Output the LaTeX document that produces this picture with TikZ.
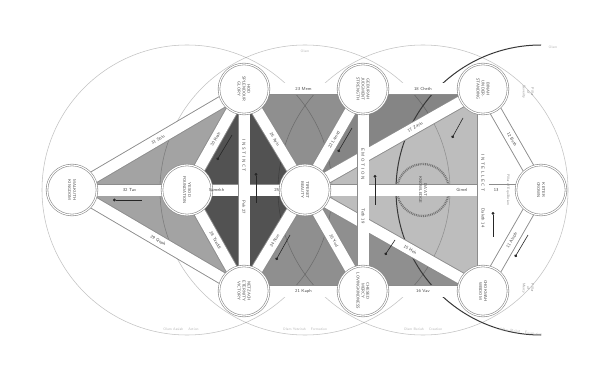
\documentclass[tikz,border=0pt]{standalone}
\usepackage{tikz}
\usetikzlibrary{arrows.meta,calc,positioning}
\definecolor{bandedge}{RGB}{140,140,140}
\definecolor{labelgrey}{RGB}{70,70,70}
\pgfdeclarelayer{shade}
\pgfdeclarelayer{bands}
\pgfsetlayers{shade,bands,main}

\begin{document}
\begin{tikzpicture}[x=1pt,y=1pt,line join=round,
  sefira/.style={circle,minimum size=50pt,inner sep=0pt,fill=white,
    draw=black!45,line width=.6pt,double=white,double distance=1.1pt,
    align=center,rotate=-90,text=labelgrey,
    font=\sffamily\fontsize{4.1}{4.9}\selectfont},
  daattext/.style={align=center,rotate=-90,inner sep=0pt,text=labelgrey,
    font=\sffamily\fontsize{4.1}{4.9}\selectfont},
  pathlabel/.style={font=\sffamily\fontsize{4.4}{4.6}\selectfont,text=labelgrey,inner sep=0pt},
  worldring/.style={black,opacity=.24,line width=.55pt},
  pillartext/.style={font=\sffamily\fontsize{3.6}{4.2}\selectfont,text=black!45,align=center,rotate=-90},
  worldtext/.style={font=\sffamily\fontsize{3.6}{4.2}\selectfont,text=black!28},
  pointer/.style={{Circle[length=2.8pt]}-,black!85,line width=.6pt}]
\useasboundingbox (0,0) rectangle (605,381);

% the ten sefirot and da'at
\node[sefira] (malkuth) at (72,191) {MALKUTH\\KINGDOM};
\node[sefira] (yesod) at (187,191) {YESOD\\FOUNDATION};
\node[sefira] (tiferet) at (305,191) {TIFERET\\BEAUTY};
\node[sefira] (keter) at (541,191) {KETER\\CROWN};
\node[sefira] (hod) at (244,292) {HOD\\SPLENDOUR\\GLORY};
\node[sefira] (geburah) at (363,292) {GEBURAH\\JUDGMENT\\STRENGTH};
\node[sefira] (binah) at (483,292) {BINAH\\UNDER-\\STANDING};
\node[sefira] (netzach) at (244,90) {NETZACH\\ETERNITY\\VICTORY};
\node[sefira] (chesed) at (363,90) {CHESED\\MERCY\\LOVINGKINDNESS};
\node[sefira] (chokmah) at (483,90) {CHOKMAH\\WISDOM};
\node[daattext] (daat) at (423,191) {DA'AT\\KNOWLEDGE};

\begin{pgfonlayer}{shade}
 \fill[white] (0,0) rectangle (605,381);
 \fill[black!36] (malkuth.center)--(hod.center)--(netzach.center)--cycle;
 \fill[black!68] (hod.center)--(tiferet.center)--(netzach.center)--(yesod.center)--cycle;
 \fill[black!44] (hod.center)--(geburah.center)--(tiferet.center)--cycle;
 \fill[black!44] (netzach.center)--(chesed.center)--(tiferet.center)--cycle;
 \fill[black!48] (geburah.center)--(binah.center)--(tiferet.center)--cycle;
 \fill[black!44] (chesed.center)--(chokmah.center)--(tiferet.center)--cycle;
 \fill[black!26] (tiferet.center)--(binah.center)--(chokmah.center)--cycle;
 \draw[dash pattern=on .9pt off .9pt,line width=2.2pt,black!55] (daat.center) circle[radius=26pt];
 % the four worlds
 \foreach \s in {yesod,tiferet,daat}
  \draw[worldring] (\s.center) circle[radius=145pt];
 \draw[black!78,line width=1pt] (keter.center) ++(0,145)
  arc[start angle=90,end angle=270,radius=145pt];
\end{pgfonlayer}

\begin{pgfonlayer}{bands}
 \foreach \a/\b in {malkuth/yesod,yesod/tiferet,tiferet/keter,
   malkuth/hod,malkuth/netzach,yesod/hod,yesod/netzach,tiferet/hod,tiferet/netzach,
   tiferet/geburah,tiferet/chesed,tiferet/binah,tiferet/chokmah,keter/binah,keter/chokmah,
   hod/geburah,geburah/binah,netzach/chesed,chesed/chokmah,
   hod/netzach,geburah/chesed,binah/chokmah}{
  \draw[line width=12.8pt,bandedge] (\a.center)--(\b.center);
  \draw[line width=11pt,white] (\a.center)--(\b.center);}
\end{pgfonlayer}

% path letters
\path (malkuth)--(yesod) node[pathlabel,midway] {32 Tav};
\node[pathlabel] at ($(yesod)!.25!(tiferet)$) {Samekh};
\node[pathlabel] at ($(yesod)!.76!(tiferet)$) {25};
\node[pathlabel] at ($(tiferet)!.665!(keter)$) {Gimel};
\node[pathlabel] at ($(tiferet)!.81!(keter)$) {13};
\path (malkuth)--(hod) node[pathlabel,midway,sloped] {31 Shin};
\path (malkuth)--(netzach) node[pathlabel,midway,sloped] {29 Qoph};
\path (yesod)--(hod) node[pathlabel,midway,sloped] {30 Resh};
\path (yesod)--(netzach) node[pathlabel,midway,sloped] {28 Tzaddi};
\path (tiferet)--(hod) node[pathlabel,midway,sloped] {26 Ayin};
\path (tiferet)--(netzach) node[pathlabel,midway,sloped] {24 Nun};
\path (tiferet)--(geburah) node[pathlabel,midway,sloped] {22 Lamed};
\path (tiferet)--(chesed) node[pathlabel,midway,sloped] {20 Yod};
\path (tiferet)--(binah) node[pathlabel,pos=.66,sloped] {17 Zayin};
\path (tiferet)--(chokmah) node[pathlabel,pos=.62,sloped] {15 Heh};
\path (keter)--(binah) node[pathlabel,midway,sloped] {12 Beth};
\path (keter)--(chokmah) node[pathlabel,midway,sloped] {11 Aleph};
\path (hod)--(geburah) node[pathlabel,midway] {23 Mem};
\path (geburah)--(binah) node[pathlabel,midway] {18 Cheth};
\path (netzach)--(chesed) node[pathlabel,midway] {21 Kaph};
\path (chesed)--(chokmah) node[pathlabel,midway] {16 Vav};
\node[pathlabel,rotate=-90] at (244,225) {I N S T I N C T};
\node[pathlabel,rotate=-90] at (244,174) {Peh 27};
\node[pathlabel,rotate=-90] at (363,217) {E M O T I O N};
\node[pathlabel,rotate=-90] at (363,165) {Teth 19};
\node[pathlabel,rotate=-90] at (483,208) {I N T E L L E C T};
\node[pathlabel,rotate=-90] at (483,163) {Daleth 14};

% pillars and worlds
\node[pillartext] (severity) at (528,289) {Pillar\\of\\Severity};
\node[pillartext] (mercy) at (528,93) {Pillar\\of\\Mercy};
\node[pillartext] (balance) at (508,191) {Pillar of Equilibrium};
\node[worldtext] (olamtop) at (305,330) {Olam};
\node[worldtext] (olamright) at (553,334) {Olam};
\node[worldtext] (assiah) at (181,52) {Olam Assiah \quad Action};
\node[worldtext] (yetzirah) at (305,52) {Olam Yetzirah \quad Formation};
\node[worldtext] (beriah) at (423,52) {Olam Beriah \quad Creation};
\node[worldtext,rotate=-8] (atzilut) at (521,49) {Olam Atzilut \quad Emanation};

% flow pointers
\foreach \x/\y/\u/\v [count=\i] in {113/181/142/181,217/221/232/246,256/208/256/178,
  276/121/290/146,338/229/352/253,375/206/375/176,385/126/395/141,
  452/243/463/263,493/169/493/144,515/124/528/146}{
 \coordinate (dot\i) at (\x,\y);
 \coordinate (tip\i) at (\u,\v);
 \draw[pointer] (dot\i)--(tip\i);}
\end{tikzpicture}
\end{document}
